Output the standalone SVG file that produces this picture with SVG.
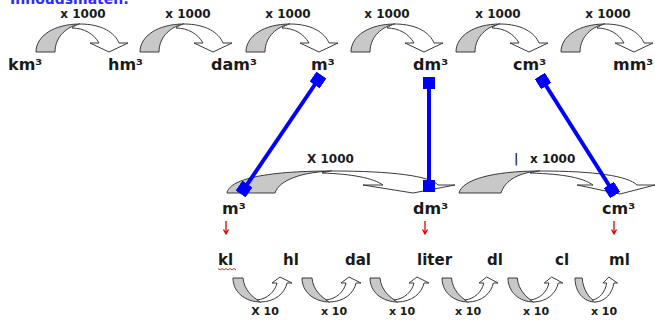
<svg xmlns="http://www.w3.org/2000/svg" width="655" height="320" viewBox="0 0 655 320">
<style>
.u{font-family:"DejaVu Sans",Verdana,sans-serif;font-weight:bold;font-size:16px;fill:#1a1a1a}
.l{font-family:"DejaVu Sans",Verdana,sans-serif;font-weight:bold;font-size:15px;fill:#1a1a1a}
.m{font-family:"DejaVu Sans",Verdana,sans-serif;font-weight:bold;font-size:12px;fill:#1a1a1a}
.s{font-family:"DejaVu Sans",Verdana,sans-serif;font-weight:bold;font-size:11px;fill:#1a1a1a}
.t{font-family:"DejaVu Sans",Verdana,sans-serif;font-weight:bold;font-size:14px;fill:#2b2bff}
.g{fill:#c8c8c8;stroke:#3a3a3a;stroke-width:1;stroke-linejoin:round}
.w{fill:#ffffff;stroke:#3a3a3a;stroke-width:1;stroke-linejoin:round}
.b{stroke:#0000ff;stroke-width:4;fill:none;marker-start:url(#sq);marker-end:url(#sq)}
.r{stroke:#e00000;stroke-width:1.3;fill:none}
</style>
<defs>
<marker id="sq" markerUnits="userSpaceOnUse" markerWidth="12" markerHeight="12" refX="5" refY="5" orient="auto" viewBox="0 0 10 10">
<rect x="0" y="0" width="10" height="10" fill="#0000ff"/>
</marker>
<g id="topArrow">
<path class="g" d="M0,52 C0,36 18,24 44,24 C32,26 19,36 19,52 Z"/>
<path class="w" d="M44,24 C66,24 79,33 83,43 L92,43 L73,52 L54,43 L63,43 C58,34 48,28 36,28 C38,26 41,24.5 44,24 Z"/>
</g>
<g id="botArrow">
<path class="g" vector-effect="non-scaling-stroke" d="M0,278 C0,292 12,302 28,302 C20,298 11,290 10,278 Z"/>
<path class="w" vector-effect="non-scaling-stroke" d="M27,302 C42,302 52,293 54,283 L59,283 L47,277 L39,283 L44,283 C42,292 34,299 24,300 Z"/>
</g>
</defs>

<text class="t" x="10" y="4">Inhoudsmaten:</text>

<g id="top-arrows">
<use href="#topArrow" transform="translate(36,0)"/>
<use href="#topArrow" transform="translate(140,0)"/>
<use href="#topArrow" transform="translate(246,0)"/>
<use href="#topArrow" transform="translate(351,0)"/>
<use href="#topArrow" transform="translate(456,0)"/>
<use href="#topArrow" transform="translate(561,0)"/>
</g>
<g id="top-labels">
<text class="m" x="83" y="18" text-anchor="middle">x 1000</text>
<text class="m" x="188" y="18" text-anchor="middle">x 1000</text>
<text class="m" x="288" y="18" text-anchor="middle">x 1000</text>
<text class="m" x="387" y="18" text-anchor="middle">x 1000</text>
<text class="m" x="498" y="18" text-anchor="middle">x 1000</text>
<text class="m" x="608" y="18" text-anchor="middle">x 1000</text>
</g>
<g id="n-km3"><text class="u" x="8" y="70">km³</text></g>
<g id="n-hm3"><text class="u" x="108" y="70">hm³</text></g>
<g id="n-dam3"><text class="u" x="211" y="70">dam³</text></g>
<g id="n-m3"><text class="u" x="311" y="70">m³</text></g>
<g id="n-dm3"><text class="u" x="413" y="70">dm³</text></g>
<g id="n-cm3"><text class="u" x="513" y="70">cm³</text></g>
<g id="n-mm3"><text class="u" x="613" y="70">mm³</text></g>

<g id="mid-arrows">
<path class="g" d="M227,193 C229,180 262,171 332,171 C302,172 279,180 275,193 Z"/>
<path class="w" d="M332,171 C392,171 430,176 438,185 L455,185 L413,193 L363,185 L383,185 C373,178 352,174 322,173 C325,172 328,171.5 332,171 Z"/>
<path class="g" d="M459,193 C462,180 492,171 540,171 C520,172 505,180 501,193 Z"/>
<path class="w" d="M540,171 C595,171 628,176 637,185 L655,185 L620,194 L577,185 L593,185 C583,178 565,174 530,173 C533,172 536,171.5 540,171 Z"/>
</g>
<g id="mid-labels">
<text class="m" x="307" y="163">X 1000</text>
<text class="m" x="514" y="163">|</text>
<text class="m" x="530" y="163">x 1000</text>
</g>

<g id="connectors">
<line class="b" x1="318" y1="80" x2="244" y2="189"/>
<line class="b" x1="429" y1="83" x2="429" y2="186"/>
<line class="b" x1="543" y1="81" x2="612" y2="190"/>
</g>

<g id="n-m3-low"><text class="u" x="222" y="214">m³</text></g>
<g id="n-dm3-low"><text class="u" x="413" y="214">dm³</text></g>
<g id="n-cm3-low"><text class="u" x="602" y="214">cm³</text></g>

<g id="red-arrows">
<path class="r" d="M226,221 L226,234 M223.5,229.5 L226,234 L228.5,229.5"/>
<path class="r" d="M425,221 L425,234 M422.5,229.5 L425,234 L427.5,229.5"/>
<path class="r" d="M614,221 L614,234 M611.5,229.5 L614,234 L616.5,229.5"/>
</g>

<g id="n-kl"><text class="l" x="218" y="265">kl</text>
<path d="M218,268.5 l2,1.5 l2,-1.5 l2,1.5 l2,-1.5 l2,1.5 l2,-1.5 l2,1.5 l2,-1.5 l2,1.5" fill="none" stroke="#e00000" stroke-width="0.8"/></g>
<g id="n-hl"><text class="l" x="283" y="265">hl</text></g>
<g id="n-dal"><text class="l" x="345" y="265">dal</text></g>
<g id="n-liter"><text class="l" x="417" y="265">liter</text></g>
<g id="n-dl"><text class="l" x="487" y="265">dl</text></g>
<g id="n-cl"><text class="l" x="555" y="265">cl</text></g>
<g id="n-ml"><text class="l" x="609" y="265">ml</text></g>

<g id="bottom-arrows">
<use href="#botArrow" transform="translate(233,0)"/>
<use href="#botArrow" transform="translate(302,0)"/>
<use href="#botArrow" transform="translate(370,0)"/>
<use href="#botArrow" transform="translate(442,0) scale(0.95,1)"/>
<use href="#botArrow" transform="translate(508,0) scale(0.93,1)"/>
<use href="#botArrow" transform="translate(575,0) scale(0.72,1)"/>
</g>
<g id="bottom-labels">
<text class="s" x="265" y="315" text-anchor="middle">X 10</text>
<text class="s" x="334" y="315" text-anchor="middle">x 10</text>
<text class="s" x="402" y="315" text-anchor="middle">x 10</text>
<text class="s" x="468" y="315" text-anchor="middle">x 10</text>
<text class="s" x="536" y="315" text-anchor="middle">x 10</text>
<text class="s" x="604" y="315" text-anchor="middle">x 10</text>
</g>
</svg>
